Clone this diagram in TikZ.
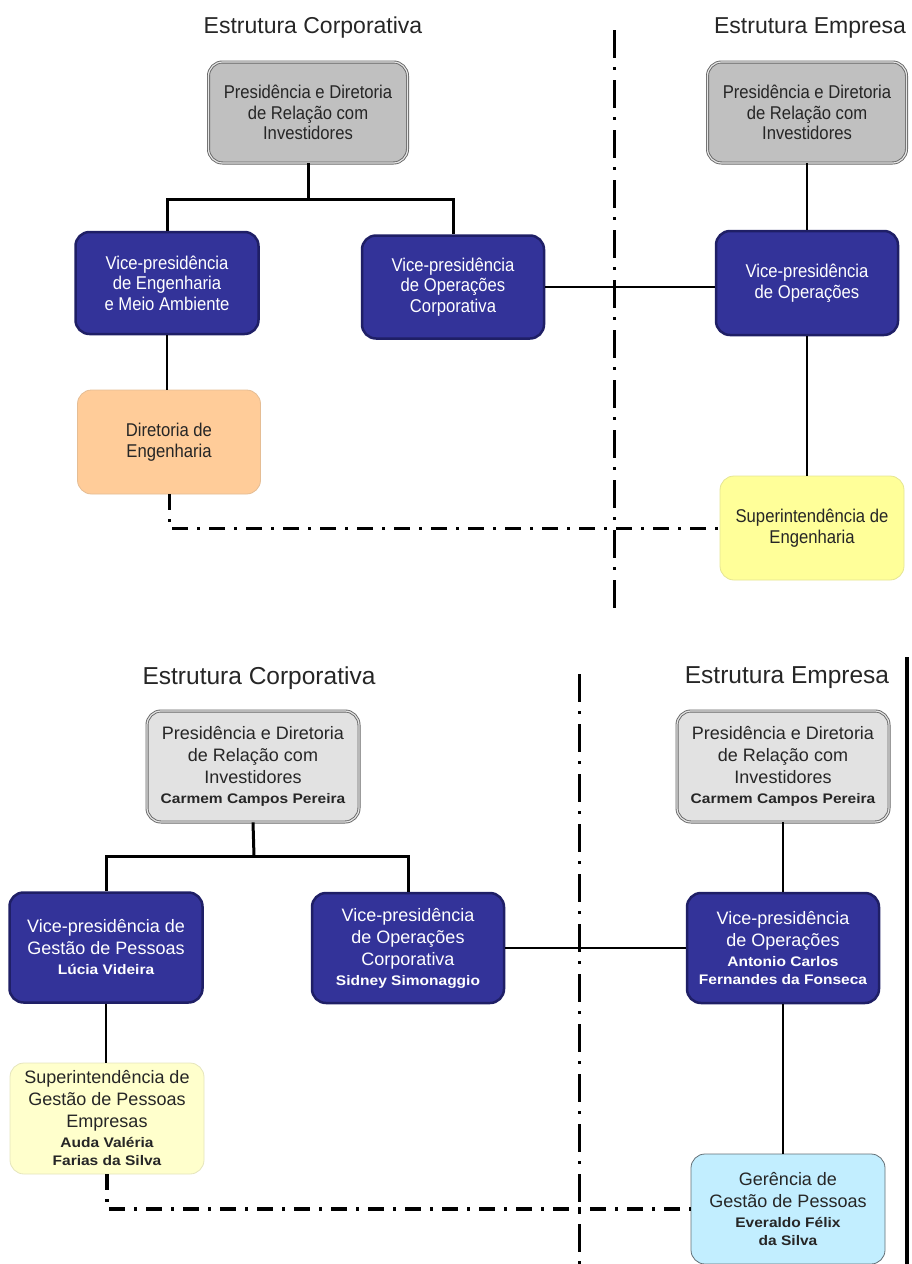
\documentclass[tikz,border=0pt]{standalone}
\usepackage{fontspec}
\setmainfont{Liberation Sans}
\newfontfamily\condfont[FakeStretch=0.9]{Liberation Sans}
\newfontfamily\namefont[FakeStretch=1.12,Scale=0.77]{Liberation Sans}
\definecolor{vpblue}{HTML}{333399}
\definecolor{vpedge}{HTML}{1F1F66}
\definecolor{boardgrey}{HTML}{C0C0C0}
\definecolor{boardlight}{HTML}{E2E2E2}
\definecolor{peach}{HTML}{FFCC99}
\definecolor{lemon}{HTML}{FFFF99}
\definecolor{lemonlight}{HTML}{FFFFCC}
\definecolor{sky}{HTML}{C2EEFF}

\begin{document}
\begin{tikzpicture}[
    x=1pt,
    y=-1pt,
    box/.style={
        rectangle,
        rounded corners=14pt,
        align=center,
        inner sep=0pt
    },
    board/.style={
        box,
        draw=gray!80!black,
        double=gray!20,
        double distance=1.2pt,
        line width=0.9pt,
        fill=#1,
        text=black!85
    },
    vp/.style={
        box,
        draw=vpedge,
        line width=2.5pt,
        fill=vpblue,
        text=white
    },
    unit/.style={
        box,
        draw=#1!80!gray,
        line width=0.8pt,
        fill=#1,
        text=black!85
    },
    title/.style={
        text=black!85
    },
    upper/.style={
        font=\condfont\fontsize{18.5}{20.5}\selectfont
    },
    lower/.style={
        font=\fontsize{18}{22}\selectfont
    },
    link/.style={
        line width=2pt
    },
    bus/.style={
        line width=3pt
    },
    divider/.style={
        line width=3pt,
        dash pattern=on 28pt off 9pt on 3pt off 10pt
    },
    dotline/.style={
        line width=3pt,
        dash pattern=on 16pt off 9pt on 3pt off 9pt
    }
]
\useasboundingbox (0,0) rectangle (912,1264);

% Upper chart
\node[title, font=\fontsize{23}{26}\selectfont] (corp1) at (313,28) {Estrutura Corporativa};
\node[title, font=\fontsize{23}{26}\selectfont] (emp1) at (810,28) {Estrutura Empresa};

\node[board=boardgrey, upper, minimum width=199pt, minimum height=101pt] (pres1) at (308,112.5)
    {Presidência e Diretoria\\de Relação com\\Investidores};
\node[board=boardgrey, upper, minimum width=199pt, minimum height=101pt] (presemp1) at (807,112.5)
    {Presidência e Diretoria\\de Relação com\\Investidores};
\node[vp, upper, minimum width=183pt, minimum height=102pt] (vpeng) at (167,283)
    {Vice-presidência\\de Engenharia\\e Meio Ambiente};
\node[vp, upper, minimum width=182pt, minimum height=103pt] (vpopc1) at (453,287)
    {Vice-presidência\\de Operações\\Corporativa};
\node[vp, upper, minimum width=182pt, minimum height=104pt] (vpop1) at (807,283)
    {Vice-presidência\\de Operações};
\node[unit=peach, upper, minimum width=183pt, minimum height=104pt] (direng) at (169,442)
    {Diretoria de\\Engenharia};
\node[unit=lemon, upper, minimum width=184pt, minimum height=104pt] (supeng) at (812,528)
    {Superintendência de\\Engenharia};

\coordinate (fork1) at (308,199);
\coordinate (divtop1) at (614,30);
\coordinate (divbot1) at (614,612);

\draw[bus] (pres1.south) -- (fork1);
\draw[bus] (fork1) -| (vpeng.north);
\draw[bus] (fork1) -| (vpopc1.north);
\draw[link] (presemp1.south) -- (presemp1.south |- vpop1.north);
\draw[link] (vpopc1.east) -- (vpopc1.east -| vpop1.west);
\draw[link] (vpeng.south) -- (vpeng.south |- direng.north);
\draw[link] (vpop1.south) -- (vpop1.south |- supeng.north);
\draw[dotline] (direng.south) |- (supeng.west);
\draw[divider] (divtop1) -- (divbot1);

% Lower chart
\node[title, font=\fontsize{24.5}{28}\selectfont] (corp2) at (259,678) {Estrutura Corporativa};
\node[title, font=\fontsize{24.5}{28}\selectfont] (emp2) at (787,678) {Estrutura Empresa};

\node[board=boardlight, lower, minimum width=212pt, minimum height=111pt] (pres2) at (253,766.5)
    {Presidência e Diretoria\\de Relação com\\Investidores\\[-2pt]{\namefont\bfseries Carmem Campos Pereira}};
\node[board=boardlight, lower, minimum width=212pt, minimum height=111pt] (presemp2) at (783,766.5)
    {Presidência e Diretoria\\de Relação com\\Investidores\\[-2pt]{\namefont\bfseries Carmem Campos Pereira}};
\node[vp, lower, minimum width=193pt, minimum height=110pt] (vpgp) at (106,947.5)
    {Vice-presidência de\\Gestão de Pessoas\\[-2pt]{\namefont\bfseries Lúcia Videira}};
\node[vp, lower, minimum width=192pt, minimum height=110pt] (vpopc2) at (408,948)
    {Vice-presidência\\de Operações\\Corporativa\\[-2pt]{\namefont\bfseries Sidney Simonaggio}};
\node[vp, lower, minimum width=192pt, minimum height=110pt] (vpop2) at (783,948)
    {Vice-presidência\\de Operações\\[-2pt]{\namefont\bfseries Antonio Carlos}\\[-4pt]{\namefont\bfseries Fernandes da Fonseca}};
\node[unit=lemonlight, lower, minimum width=194pt, minimum height=111pt] (supgp) at (107,1118.5)
    {Superintendência de\\Gestão de Pessoas\\Empresas\\[-2pt]{\namefont\bfseries Auda Valéria}\\[-4pt]{\namefont\bfseries Farias da Silva}};
\node[unit=sky, draw=gray!70!cyan!60!black, lower, minimum width=194pt, minimum height=110pt] (gergp) at (788,1209)
    {Gerência de\\Gestão de Pessoas\\[-2pt]{\namefont\bfseries Everaldo Félix}\\[-4pt]{\namefont\bfseries da Silva}};

\coordinate (fork2) at (254,856);
\coordinate (divtop2) at (579.5,674);
\coordinate (divbot2) at (579.5,1264);
\coordinate (edgetop) at (907,657);
\coordinate (edgebot) at (907,1264);

\draw[bus] (pres2.south) -- (fork2);
\draw[bus] (fork2) -| (vpgp.north);
\draw[bus] (fork2) -| (vpopc2.north);
\draw[link] (presemp2.south) -- (presemp2.south |- vpop2.north);
\draw[link] (vpopc2.east) -- (vpopc2.east -| vpop2.west);
\draw[link] (vpgp.south) -- (vpgp.south |- supgp.north);
\draw[link] (vpop2.south) -- (vpop2.south |- gergp.north);
\draw[dotline, line width=3.5pt] (supgp.south) |- (gergp.west);
\draw[divider, line width=3.5pt] (divtop2) -- (divbot2);
\draw[line width=3.5pt] (edgetop) -- (edgebot);

\end{tikzpicture}
\end{document}
